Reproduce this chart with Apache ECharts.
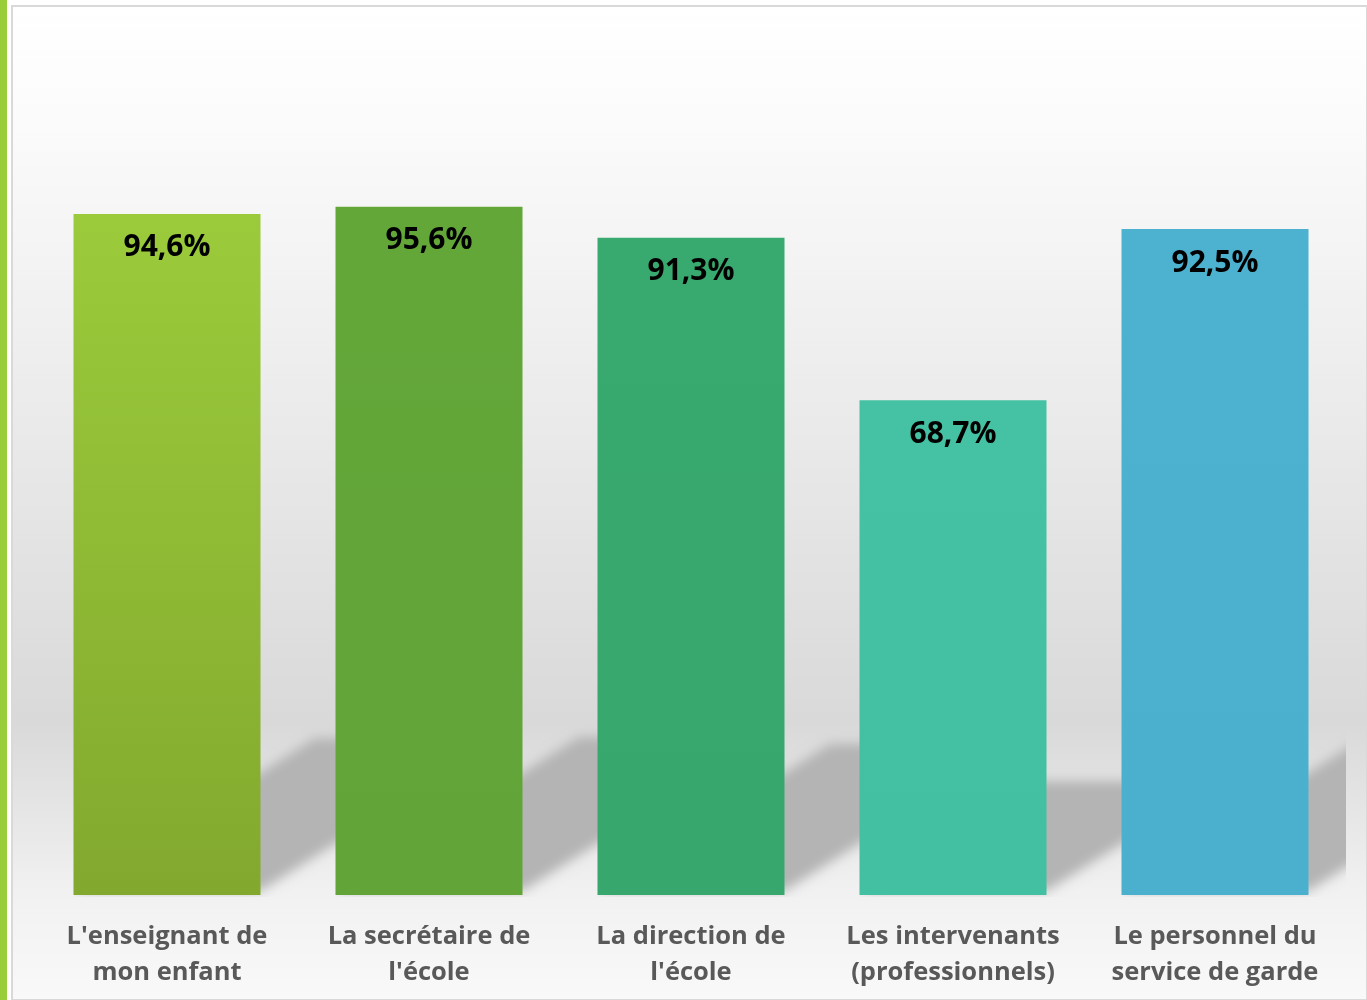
<!DOCTYPE html>
<html>
<head>
<meta charset="utf-8">
<script src="https://cdn.jsdelivr.net/npm/echarts@6/dist/echarts.min.js"></script>
<style>
html, body { margin: 0; padding: 0; background: #fff; }
#chart { width: 1367px; height: 1000px; }
</style>
</head>
<body>
<div id="chart"></div>
<script>
// categories (x axis labels)
const categories = [
    "L'enseignant de\nmon enfant",
    "La secrétaire de\nl'école",
    "La direction de\nl'école",
    "Les intervenants\n(professionnels)",
    "Le personnel du\nservice de garde"
];
// satisfaction, in %
const values = [94.6, 95.6, 91.3, 68.7, 92.5];

const barColors = [
    ['#9bcb3b', '#82a92e'],
    ['#64a739', '#62a437'],
    ['#38a96f', '#37a76d'],
    ['#45c2a3', '#43bfa1'],
    ['#4db2d0', '#4bb0ce']
];

const chart = echarts.init(document.getElementById('chart'));

// the shadow shape is drawn far off to the right and only its blurred
// shadow is moved back under the bars
const OFF = 3000;

chart.setOption({
    animation: false,
    graphic: [
        // page frame
        { type: 'rect', z: -10, shape: { x: 12, y: 6, width: 1355, height: 994 },
          style: {
              fill: new echarts.graphic.LinearGradient(0, 0, 0, 1, [
                  { offset: 0, color: '#ffffff' },
                  { offset: 0.12, color: '#fbfbfb' },
                  { offset: 0.72, color: '#d9d9d9' },
                  { offset: 0.89, color: '#f1f1f1' },
                  { offset: 1, color: '#f9f9f9' }
              ]),
              stroke: '#d9d9d9', lineWidth: 2
          } },
        { type: 'rect', z: -5, shape: { x: 0, y: 0, width: 7, height: 1000 },
          style: { fill: '#9acd3a' } }
    ],
    grid: {
        left: 36,
        right: 21,
        top: 175,
        bottom: 105
    },
    xAxis: {
        type: 'category',
        data: categories,
        axisLine: { show: false },
        axisTick: { show: false },
        axisLabel: {
            interval: 0,
            hideOverlap: false,
            margin: 24,
            color: '#595959',
            fontFamily: 'Open Sans',
            fontWeight: 'bold',
            fontSize: 25.5,
            lineHeight: 36
        }
    },
    yAxis: {
        type: 'value',
        min: 0,
        max: 100,
        show: false,
        splitLine: { show: false }
    },
    series: [
        {
            // perspective shadows behind the bars
            type: 'custom',
            z: 1,
            clip: false,
            silent: true,
            data: values.map((v, i) => [i, v]),
            encode: { x: 0, y: 1 },
            renderItem: function (params, api) {
                const base = api.coord([api.value(0), 0]);
                const top = api.coord([api.value(0), api.value(1)]);
                const w = api.size([1, 0])[0] * 0.714;
                const xl = base[0] - w / 2;
                const xr = base[0] + w / 2;
                const y0 = base[1];
                const h = y0 - top[1];
                const dx = 0.354 * h;
                const dy = 0.23 * h;
                // keep the shadow inside the plot area
                const xmax = params.coordSys.x + params.coordSys.width;
                const pts = [[xl, y0 - 4], [xr, y0 - 4], [xr + dx, y0 - dy], [xl + dx, y0 - dy]];
                return {
                    type: 'group',
                    children: [{
                        type: 'polygon',
                        shape: { points: pts.map(p => [p[0] + OFF, p[1]]) },
                        style: {
                            fill: '#b4b4b4',
                            shadowBlur: 12,
                            shadowOffsetX: -OFF,
                            shadowColor: 'rgba(180,180,180,1)'
                        }
                    }],
                    clipPath: {
                        type: 'rect',
                        shape: { x: xl, y: 0, width: xmax - xl, height: y0 + 2 }
                    }
                };
            }
        },
        {
            type: 'bar',
            z: 2,
            barWidth: 187,
            data: values.map((v, i) => ({
                value: v,
                itemStyle: {
                    color: new echarts.graphic.LinearGradient(0, 0, 0, 1, [
                        { offset: 0, color: barColors[i][0] },
                        { offset: 1, color: barColors[i][1] }
                    ])
                }
            })),
            label: {
                show: true,
                position: 'insideTop',
                distance: 19,
                color: '#000',
                fontFamily: 'Open Sans',
                fontWeight: 'bold',
                fontSize: 30,
                formatter: function (p) {
                    return p.value.toFixed(1).replace('.', ',') + '%';
                }
            }
        }
    ]
});
</script>
</body>
</html>
